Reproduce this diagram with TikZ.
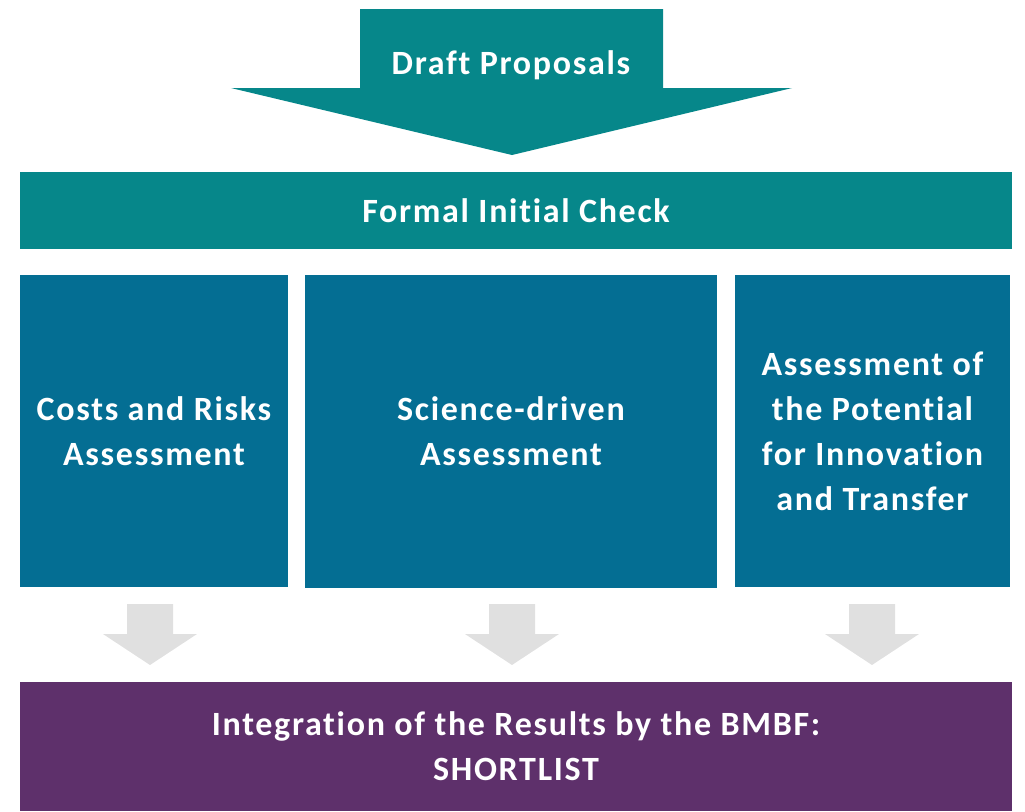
\documentclass[tikz,border=0pt]{standalone}
\usepackage{fontspec}
\setmainfont{Carlito}[Ligatures={NoCommon}, LetterSpace=5]
\usetikzlibrary{calc}

\definecolor{tealgreen}{HTML}{06878A}
\definecolor{petrol}{HTML}{046E93}
\definecolor{plum}{HTML}{5E306B}
\definecolor{lightgrey}{HTML}{E0E0E0}

\tikzset{
    box/.style={inner sep=0pt, align=center, text=white,
        font={\fontsize{17pt}{22.5pt}\selectfont\bfseries}},
    tealbox/.style={box, fill=tealgreen},
    petrolbox/.style={box, fill=petrol},
    plumbox/.style={box, fill=plum},
    greyarrow/.style={fill=lightgrey}
}

\begin{document}
\begin{tikzpicture}[x=0.5pt, y=-0.5pt]
            \useasboundingbox (0,0) rectangle (1025,811);

            % big arrow on top
            \fill[tealgreen]
                (360,9) -- (663,9) -- (663,88) -- (792,88)
                    -- (512,155) -- (231,88) -- (360,88) -- cycle;
            \node[box] (draft) at (511,65) {Draft Proposals};

            \node[tealbox, minimum width=496pt, minimum height=38.5pt]
                (check) at (516,210.5) {Formal Initial Check};

            \node[petrolbox, minimum width=134pt, minimum height=156pt]
                (costs) at (154,431) {Costs and Risks\\Assessment};
            \node[petrolbox, minimum width=206pt, minimum height=156.5pt]
                (science) at (511,431.5) {Science-driven\\Assessment};
            \node[petrolbox, minimum width=137.5pt, minimum height=156pt]
                (transfer) at (872.5,431) {Assessment of\\the Potential\\for Innovation\\and Transfer};

            \node[plumbox, minimum width=496pt, minimum height=64.5pt]
                (shortlist) at (516,746.5) {Integration of the Results by the BMBF:\\SHORTLIST};

            % grey arrows down to the shortlist
            \foreach \cx in {150, 512, 872}
                \fill[greyarrow]
                    (\cx-23,604) -- (\cx+23,604) -- (\cx+23,634) -- (\cx+47,634)
                        -- (\cx,665) -- (\cx-47,634) -- (\cx-23,634) -- cycle;
        \end{tikzpicture}
\end{document}
